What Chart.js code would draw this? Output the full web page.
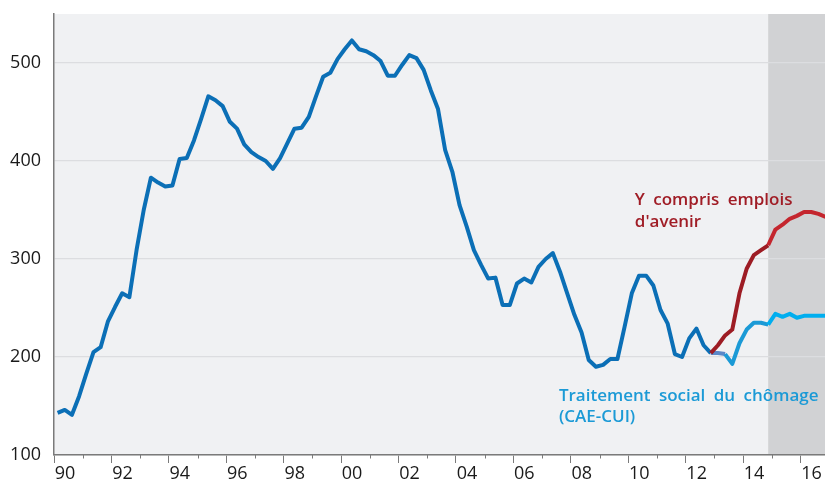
<!DOCTYPE html>
<html><head><meta charset="utf-8">
<script src="https://cdn.jsdelivr.net/npm/chart.js@4/dist/chart.umd.min.js"></script>
<style>html,body{margin:0;padding:0;background:#fff}#wrap{width:825px;height:480px}</style>
</head><body><div id="wrap"><canvas id="c" width="825" height="480"></canvas></div>
<script>
// ---- categories: quarters 1990T1 .. 2016T4 ----
const firstYear = 1990;
const lastYear = 2016;
const quarters = [];
for (let y = firstYear; y <= lastYear; y++) for (let q = 1; q <= 4; q++) quarters.push({ year: y, q: q });
const quarterPos = quarters.map(c => c.year + (c.q - 0.5) / 4);

// ---- tick labels ----
const tickYears = [];
for (let y = firstYear; y <= lastYear; y++) tickYears.push(y);
const tickLabels = ["90","92","94","96","98","00","02","04","06","08","10","12","14","16"];
const yTicks = [100, 200, 300, 400, 500];

// ---- series (thousands) ----
// Dark blue: 1990T1 .. 2012T4
const serieHistorique = [
  143,146,141,160, 183,205,210,236, 251,265,261,309, 350,383,378,374,
  375,402,403,421, 443,466,462,456, 440,433,417,409, 404,400,392,403,
  418,433,434,445, 466,486,490,504, 514,523,514,512, 508,502,487,487,
  498,508,505,493, 472,453,411,389, 355,333,309,294, 280,281,253,253,
  275,280,276,292, 300,306,287,265, 243,225,197,190, 192,198,198,231,
  265,283,283,273, 248,234,203,200, 219,229,212,204
];
// Red: "Y compris emplois d'avenir" 2012T4 .. 2016T4
const serieEmploisAvenir = [204,212,222,228,265,290,304,309,314,330,335,341,344,348,348,346,343];
// Light blue: "Traitement social du chômage (CAE-CUI)" 2012T4 .. 2016T4
const serieCaeCui = [204,204,203,193,214,228,235,235,233,244,241,244,240,242,242,242,242];
const startIndexProjection = 91; // 2012T4
const forecastStart = 2014.875;  // shaded area start
const mixEnd = 2013.375;

const toPts = (arr, off) => arr.map((v, i) => ({ x: quarterPos[off + i], y: v }));

const bgPlugin = {
  id: 'bg',
  beforeDraw(chart) {
    const { ctx, chartArea: a, scales } = chart;
    ctx.save();
    ctx.fillStyle = '#f0f1f3';
    ctx.fillRect(a.left, a.top, a.right - a.left, a.bottom - a.top);
    const xs = scales.x.getPixelForValue(forecastStart);
    ctx.fillStyle = '#d1d2d4';
    ctx.fillRect(xs, a.top, a.right - xs, a.bottom - a.top);
    ctx.restore();
  },
  afterDraw(chart) {
    const { ctx, chartArea: a, scales } = chart;
    ctx.save();
    ctx.strokeStyle = '#7a7a7a';
    ctx.lineWidth = 1;
    tickYears.forEach(y => {
      if (y % 2 !== 0) {
        const x = Math.round(scales.x.getPixelForValue(y)) + 0.5;
        ctx.beginPath(); ctx.moveTo(x, a.bottom); ctx.lineTo(x, a.bottom + 3.5); ctx.stroke();
      }
    });
    ctx.restore();
  },
  afterDatasetsDraw(chart) {
    const { ctx, scales } = chart;
    ctx.save();
    ctx.font = '600 17px "Open Sans"';
    try { ctx.wordSpacing = '4px'; } catch (e) {}
    ctx.textBaseline = 'middle';
    ctx.textAlign = 'left';
    ctx.fillStyle = '#a01d26';
    let x = scales.x.getPixelForValue(2010.23), y = scales.y.getPixelForValue(360);
    ctx.fillText('Y compris emplois', x, y);
    ctx.fillText("d'avenir", x, y + 22);
    ctx.fillStyle = '#1b9ad6';
    x = scales.x.getPixelForValue(2007.585); y = scales.y.getPixelForValue(160);
    ctx.fillText('Traitement social du chômage', x, y);
    ctx.fillText('(CAE-CUI)', x, y + 21);
    ctx.restore();
  }
};

new Chart(document.getElementById('c'), {
  type: 'line',
  data: {
    datasets: [
      { label: 'Y compris emplois d\'avenir', data: toPts(serieEmploisAvenir, startIndexProjection),
        borderColor: '#9d1c24', borderWidth: 4, pointRadius: 0, tension: 0, borderJoinStyle: 'round',
        segment: { borderColor: c => c.p0.parsed.x >= forecastStart - 1e-6 ? '#c4262e' : '#9d1c24' } },
      { label: 'Traitement social du chômage (CAE-CUI)', data: toPts(serieCaeCui, startIndexProjection),
        borderColor: '#1b9ad6', borderWidth: 4, pointRadius: 0, tension: 0, borderJoinStyle: 'round',
        segment: { borderColor: c => c.p1.parsed.x <= mixEnd + 1e-6 ? '#5b88c8' : (c.p0.parsed.x >= forecastStart - 1e-6 ? '#00aeef' : '#1b9ad6') } },
      { label: 'Historique', data: toPts(serieHistorique, 0),
        borderColor: '#0b6fb6', borderWidth: 4, pointRadius: 0, tension: 0, borderJoinStyle: 'round' }
    ]
  },
  options: {
    responsive: false, animation: false, devicePixelRatio: 1,
    layout: { padding: { top: 14, right: 0, left: 0, bottom: 0 } },
    plugins: { legend: { display: false }, tooltip: { enabled: false } },
    scales: {
      x: {
        type: 'linear', min: firstYear, max: 2016.854,
        afterBuildTicks: s => { s.ticks = tickYears.map(v => ({ value: v })); },
        afterFit: s => { s.height = 25; s.paddingLeft = 0; s.paddingRight = 0; },
        ticks: {
          autoSkip: false, maxRotation: 0, labelOffset: 11, padding: 0,
          color: '#1a1a1a', font: { family: '"Open Sans"', size: 18 },
          callback: v => (v % 2 === 0 ? tickLabels[(v - firstYear) / 2] : '')
        },
        grid: { drawOnChartArea: false, drawTicks: true, tickLength: 8,
          tickColor: c => (c.tick && c.tick.value % 2 === 0 ? '#7a7a7a' : 'rgba(0,0,0,0)') },
        border: { color: '#7a7a7a', width: 1.5 }
      },
      y: {
        type: 'linear', min: 100, max: 550,
        afterBuildTicks: s => { s.ticks = yTicks.map(v => ({ value: v })); },
        afterFit: s => { s.width = 54; s.paddingTop = 0; s.paddingBottom = 0; },
        ticks: { padding: 13, color: '#1a1a1a', font: { family: '"Open Sans"', size: 18 } },
        grid: { color: '#dcdde0', lineWidth: 1.2, drawTicks: false },
        border: { color: '#7a7a7a', width: 1.5 }
      }
    }
  },
  plugins: [bgPlugin]
});
</script>
</body></html>
